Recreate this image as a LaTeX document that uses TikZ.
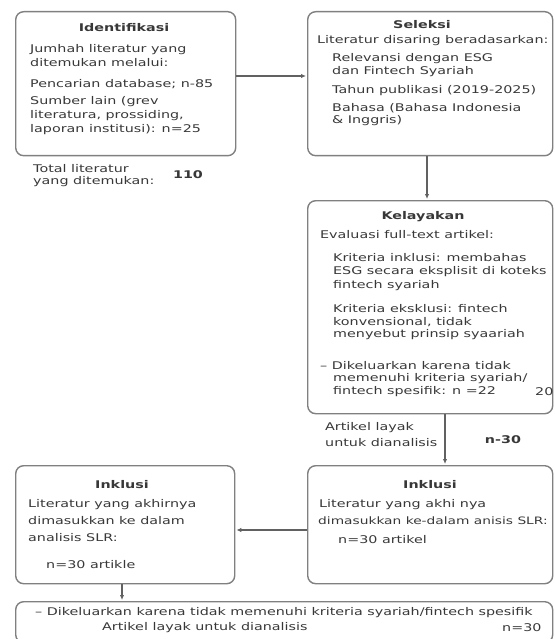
\documentclass[tikz,border=0pt]{standalone}
\usepackage{fontspec}
\setmainfont{DejaVu Sans}[FakeStretch=1.35]
\usepackage{tikz}
\usetikzlibrary{positioning,arrows.meta}
\definecolor{boxgrey}{rgb}{0.50,0.50,0.50}
\definecolor{linegrey}{rgb}{0.38,0.38,0.38}
\definecolor{textgrey}{rgb}{0.22,0.22,0.22}
\tikzset{
  stage/.style={draw=boxgrey,line width=1.4pt,rounded corners=8pt,anchor=north west,inner sep=0pt},
  txt/.style={anchor=west,inner sep=0pt,text=textgrey,font=\fontsize{10.6}{13}\selectfont},
  ttl/.style={inner sep=0pt,text=textgrey,font=\fontsize{10.6}{13}\selectfont\bfseries},
  flow/.style={-{Latex[length=5pt,width=4.5pt]},line width=1.2pt,draw=linegrey,shorten >=1pt},
}
\begin{document}
\begin{tikzpicture}[x=1pt,y=-1pt]
      \useasboundingbox (0,0) rectangle (554,639);
      %% boxes
      \node[stage,minimum width=220pt,minimum height=144pt] (ident) at (15,11) {};
      \node[stage,minimum width=245pt,minimum height=144pt] (selek) at (307,11) {};
      \node[stage,minimum width=245pt,minimum height=213pt] (kelay) at (307,200) {};
      \node[stage,minimum width=245pt,minimum height=118pt] (inkR) at (307,465) {};
      \node[stage,minimum width=219pt,minimum height=118pt] (inkL) at (15,465) {};
      \node[stage,minimum width=537pt,minimum height=41pt] (keluar) at (15,601) {};
      %% identifikasi
      \node[ttl] (identT) at (124,28) {Identifikasi};
      \node[txt] (i1) at (30,50) {Jumhah literatur yang};
      \node[txt] (i2) at (30,63) {ditemukan melalui:};
      \node[txt] (i3) at (30,84) {Pencarian database; n-85};
      \node[txt] (i4) at (30,102) {Sumber lain (grev};
      \node[txt] (i5) at (30,116) {literatura, prossiding,};
      \node[txt] (i6) at (30,130) {laporan institusi): n=25};
      \node[txt] (tot1) at (33,169) {Total literatur};
      \node[txt] (tot2) at (33,182) {yang ditemukan:};
      \node[ttl] (totN) at (188,175) {110};
      %% seleksi
      \node[ttl] (selekT) at (422,25) {Seleksi};
      \node[txt] (s1) at (317,41) {Literatur disaring beradasarkan:};
      \node[txt] (s2) at (332,59) {Relevansi dengan ESG};
      \node[txt] (s3) at (332,72) {dan Fintech Syariah};
      \node[txt] (s4) at (332,91) {Tahun publikasi (2019-2025)};
      \node[txt] (s5) at (332,108) {Bahasa (Bahasa Indonesia};
      \node[txt] (s6) at (332,121) {\& Inggris)};
      %% kelayakan
      \node[ttl] (kelayT) at (423,217) {Kelayakan};
      \node[txt] (k1) at (320,235) {Evaluasi full-text artikel:};
      \node[txt] (k2) at (333,258) {Kriteria inklusi: membahas};
      \node[txt] (k3) at (333,272) {ESG secara eksplisit di koteks};
      \node[txt] (k4) at (333,286) {fintech syariah};
      \node[txt] (k5) at (333,309) {Kriteria eksklusi: fintech};
      \node[txt] (k6) at (333,322) {konvensional, tidak};
      \node[txt] (k7) at (333,335) {menyebut prinsip syaariah};
      \node[txt] (k8) at (320,366) {– Dikeluarkan karena tidak};
      \node[txt] (k9) at (333,379) {memenuhi kriteria syariah/};
      \node[txt] (k10) at (333,392) {fintech spesifik: n =22};
      \node[txt] (k11) at (535,392) {20};
      \node[txt] (lay1) at (325,428) {Artikel layak};
      \node[txt] (lay2) at (325,443) {untuk dianalisis};
      \node[ttl] (layN) at (503,440) {n-30};
      %% inklusi kanan
      \node[ttl] (inkRT) at (430,485) {Inklusi};
      \node[txt] (r1) at (319,505) {Literatur yang akhi nya};
      \node[txt,font=\fontsize{10.2}{13}\selectfont] (r2) at (318,521) {dimasukkan ke-dalam anisis SLR:};
      \node[txt] (r3) at (338,540) {n=30 artikel};
      %% inklusi kiri
      \node[ttl] (inkLT) at (122,485) {Inklusi};
      \node[txt] (l1) at (28,505) {Literatur yang akhirnya};
      \node[txt] (l2) at (28,521) {dimasukkan ke dalam};
      \node[txt] (l3) at (28,538) {analisis SLR:};
      \node[txt] (l4) at (46,565) {n=30 artikle};
      %% dikeluarkan
      \node[txt] (e1) at (35,613) {– Dikeluarkan karena tidak memenuhi kriteria syariah/fintech spesifik};
      \node[txt] (e2) at (102,628) {Artikel layak untuk dianalisis};
      \node[txt] (e3) at (502,628) {n=30};
      %% arrows
      \draw[flow] (ident.east |- 0,76) -- (selek.west |- 0,76);
      \draw[flow] (selek.south -| 427,0) -- (kelay.north -| 427,0);
      \draw[flow] (kelay.south -| 445,0) -- (inkR.north -| 445,0);
      \draw[flow] (inkR.west |- 0,530) -- (inkL.east |- 0,530);
      \draw[flow] (inkL.south -| 122,0) -- (keluar.north -| 122,0);
\end{tikzpicture}
\end{document}
